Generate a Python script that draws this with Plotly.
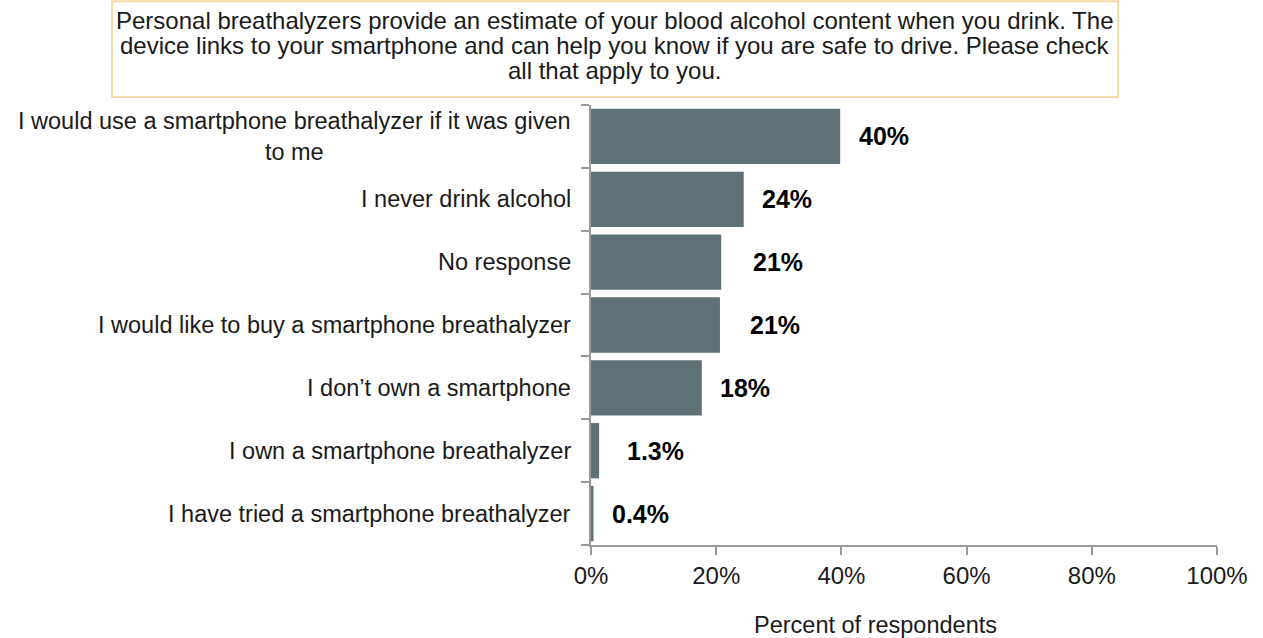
import plotly.graph_objects as go

# Survey responses (share of respondents, %)
categories = [
    "I would use a smartphone breathalyzer if it was given<br>to me",
    "I never drink alcohol",
    "No response",
    "I would like to buy a smartphone breathalyzer",
    "I don\u2019t own a smartphone",
    "I own a smartphone breathalyzer",
    "I have tried a smartphone breathalyzer",
]
values = [39.8, 24.4, 20.8, 20.6, 17.7, 1.3, 0.4]

x_ticks = [0, 20, 40, 60, 80, 100]
x_tick_labels = ["0%", "20%", "40%", "60%", "80%", "100%"]

question_lines = [
    "Personal breathalyzers provide an estimate of your blood alcohol content when you drink. The",
    "device links to your smartphone and can help you know if you are safe to drive. Please check",
    "all that apply to you.",
]

# horizontal padding (px) between each bar end and its value label
label_pad = [17, 16, 30, 28, 16, 26, 16]


def fmt(v):
    return f"{v:.0f}%" if v >= 10 else f"{v:.1f}%"


FONT = "Arial, Liberation Sans, sans-serif"
BAR = "#5f7177"
AXIS = "#9a9a9a"
TXT = "#1a1a1a"

fig = go.Figure(
    go.Bar(
        x=values,
        y=categories,
        orientation="h",
        marker=dict(color=BAR, line=dict(width=0)),
        hoverinfo="skip",
    )
)

annotations = []
# value labels beside each bar
for c, v, pad in zip(categories, values, label_pad):
    annotations.append(dict(
        x=v, y=c, xref="x", yref="y", text=f"<b>{fmt(v)}</b>",
        xanchor="left", yanchor="middle", xshift=pad, showarrow=False,
        font=dict(family=FONT, size=25, color="#000000"),
    ))
# category labels (wrapped lines centred)
for c in categories:
    annotations.append(dict(
        x=0, y=c, xref="paper", yref="y", text=c, align="center",
        xanchor="right", yanchor="middle", xshift=-18, showarrow=False,
        font=dict(family=FONT, size=23.5, color=TXT),
    ))
# question box text
for i, line in enumerate(question_lines):
    annotations.append(dict(
        x=0.038, y=1.193 - i * 0.0568, xref="paper", yref="paper", text=line,
        xanchor="center", yanchor="middle", showarrow=False,
        font=dict(family=FONT, size=24, color=TXT),
    ))
# x-axis title
annotations.append(dict(
    x=0.454, y=-0.182, xref="paper", yref="paper", text="Percent of respondents",
    xanchor="center", yanchor="middle", showarrow=False,
    font=dict(family=FONT, size=23.5, color=TXT),
))

fig.update_layout(
    width=1263, height=638,
    margin=dict(l=591, r=46, t=105, b=93),
    paper_bgcolor="white", plot_bgcolor="white",
    bargap=0.12,
    showlegend=False,
    annotations=annotations,
    shapes=[dict(
        type="rect", xref="paper", yref="paper",
        x0=-0.765, x1=0.842, y0=1.018, y1=1.236,
        line=dict(color="#f7dba6", width=2), fillcolor="rgba(0,0,0,0)",
    )],
    xaxis=dict(
        range=[0, 100], tickvals=x_ticks, ticktext=x_tick_labels,
        showgrid=False, zeroline=False,
        showline=True, linecolor=AXIS, linewidth=2,
        ticks="outside", ticklen=8, tickwidth=2, tickcolor=AXIS,
        tickfont=dict(family=FONT, size=24, color=TXT),
    ),
    yaxis=dict(
        categoryorder="array", categoryarray=categories[::-1],
        showticklabels=False, showgrid=False, zeroline=False,
        showline=True, linecolor=AXIS, linewidth=2,
        ticks="outside", ticklen=8, tickwidth=2, tickcolor=AXIS,
        tickson="boundaries",
    ),
)

fig.write_html("out.html")
